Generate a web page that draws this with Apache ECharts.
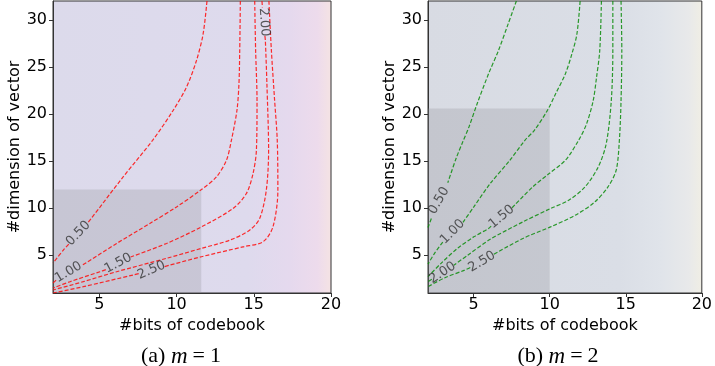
<!DOCTYPE html>
<html>
<head>
<meta charset="utf-8">
<script src="https://cdn.jsdelivr.net/npm/echarts@6/dist/echarts.min.js"></script>
<style>
  html, body { margin: 0; padding: 0; background: #fff; }
  #main { width: 715px; height: 366px; }
</style>
</head>
<body>
<div id="main"></div>
<script>
// axis ticks
var xTicks = [5, 10, 15, 20];
var yTicks = [5, 10, 15, 20, 25, 30];
var levels = ['0.50', '1.00', '1.50', '2.00', '2.50'];

// m = 1 contours, each split in two where the label sits
var m1_050 = [
  [[11.97, 32], [11.72, 28.51], [11.29, 25.68], [10.64, 22.85], [9.78, 20.39], [8.45, 17.21], [6.54, 13.32], [4.39, 8.73], [4.26, 8.47]],
  [[3.02, 6.19], [2.67, 5.55], [2, 4.18]]
];
var m1_100 = [
  [[14.13, 32], [14.09, 26.74], [14.04, 23.21], [13.91, 20.39], [13.55, 17.21], [13.23, 15.09], [12.58, 13.32], [11.61, 11.98], [10.0, 10.14], [8.27, 8.38], [6.12, 6.26], [3.85, 3.9]],
  [[2.2, 2.35], [2, 2.06]]
];
var m1_150 = [
  [[15.06, 32], [15.12, 26.74], [15.21, 21.44], [15.17, 16.15], [14.95, 13.68], [14.52, 11.56], [13.65, 9.97], [11.61, 8.02], [9.35, 6.26], [7.02, 4.82]],
  [[5.42, 3.48], [5.04, 3.26], [3.1, 2.2], [2, 1.53]]
];
var m1_200 = [
  [[15.53, 32], [15.56, 31.3]],
  [[15.72, 28.3], [15.75, 27.8], [15.85, 23.21], [15.96, 16.15], [15.81, 11.91], [15.38, 8.91], [14.73, 7.67], [13.44, 6.61], [11.61, 5.74], [9.35, 4.68], [6.12, 3.26], [3.96, 2.2], [2, 1.32]]
];
var m1_250 = [
  [[15.98, 32], [16.14, 26.74], [16.35, 21.44], [16.52, 17.21], [16.56, 11.91], [16.24, 8.02], [15.59, 6.43], [14.3, 5.9], [11.61, 4.85], [9.21, 3.8]],
  [[7.55, 3.05], [7.19, 2.91], [3.96, 1.67], [2, 1.0]]
];
var m1LabelPos = [[3.64, 7.32], [3.0, 3.2], [6.22, 4.15], [15.67, 29.76], [8.38, 3.42]];
var m1LabelRot = [46, 31, 28, -86, 23];
var m1Box = [11.6, 12];

// m = 2 contours
var m2_050 = [
  [[7.81, 32], [7.27, 29.57], [6.63, 26.74], [5.98, 24.27], [5.23, 21.09], [4.69, 18.62], [4.3, 17.1], [3.85, 15.3], [3.3, 12.7]],
  [[2.22, 8.9], [2, 7.96]]
];
var m2_100 = [
  [[12.0, 32], [11.79, 28.51], [11.46, 26.39], [11.03, 24.27], [10.39, 22.15], [9.85, 20.39], [8.99, 18.27], [8.37, 17.21], [7.38, 15.09], [6.09, 12.62], [5.01, 10.14], [4.3, 8.5]],
  [[2.97, 6.4], [2.43, 5.21], [2, 4.07]]
];
var m2_150 = [
  [[13.4, 32], [13.29, 26.74], [13.08, 23.91], [12.86, 21.44], [12.43, 18.98], [11.9, 17.21], [11.03, 15.09], [9.96, 13.68], [8.88, 12.26], [7.53, 10.05]],
  [[6.15, 8.1], [5.98, 7.85], [5.01, 6.96], [3.94, 5.74], [2.86, 4.15], [2, 2.73]]
];
var m2_200 = [
  [[14.15, 32], [14.15, 26.74], [14.05, 21.44], [13.72, 16.89], [13.19, 14.38], [12.32, 12.26], [11.25, 10.85], [10.06, 9.97], [8.24, 8.55], [6.09, 6.7], [4.6, 5.0], [3.7, 3.95]],
  [[2.25, 2.45], [2, 2.2]]
];
var m2_250 = [
  [[14.69, 32], [14.74, 26.74], [14.69, 21.44], [14.58, 17.21], [14.37, 14.03], [13.83, 12.26], [12.97, 10.67], [11.68, 9.26], [10.06, 8.02], [8.24, 6.79], [6.32, 5.1]],
  [[4.78, 3.7], [4.37, 3.4], [3.08, 2.6], [2, 1.67]]
];
var m2LabelPos = [[2.72, 10.8], [3.61, 7.49], [6.84, 9.08], [2.95, 3.15], [5.55, 4.32]];
var m2LabelRot = [60, 45, 40, 33, 31];
var m2Box = [10, 20.6];

var chart = echarts.init(document.getElementById('main'));
var font = 'DejaVu Sans';

function grad(stops) {
  return { type: 'linear', x: 0, y: 0, x2: 1, y2: 0, colorStops: stops };
}

function makeAxes(i) {
  var x = {
    type: 'value', gridIndex: i, min: 2, max: 20,
    name: '#bits of codebook', nameLocation: 'middle', nameGap: 19,
    nameTextStyle: { fontFamily: font, fontSize: 16, color: '#000' },
    axisLine: { show: true, lineStyle: { color: '#333' } },
    axisTick: { show: true, customValues: xTicks, length: 4, lineStyle: { color: '#333' } },
    axisLabel: { customValues: xTicks, fontFamily: font, fontSize: 16, color: '#000', margin: 4 },
    splitLine: { show: false }
  };
  var y = {
    type: 'value', gridIndex: i, min: 1, max: 32,
    name: '#dimension of vector', nameLocation: 'middle', nameGap: 29,
    nameTextStyle: { fontFamily: font, fontSize: 16, color: '#000' },
    axisLine: { show: true, lineStyle: { color: '#333' } },
    axisTick: { show: true, customValues: yTicks, length: 4, lineStyle: { color: '#333' } },
    axisLabel: { customValues: yTicks, fontFamily: font, fontSize: 16, color: '#000', margin: 6 },
    splitLine: { show: false }
  };
  return [x, y];
}

var ax0 = makeAxes(0), ax1 = makeAxes(1);
var series = [];

function addPanel(i, contours, labelPos, labelRot, box, color) {
  // shaded region
  series.push({
    type: 'line', xAxisIndex: i, yAxisIndex: i, data: [], z: 1, silent: true,
    markArea: {
      silent: true,
      data: [
        [{ xAxis: 2, yAxis: 1, itemStyle: { opacity: 1, color: 'rgba(145,145,150,0.27)' } }, { xAxis: box[0], yAxis: box[1] }]
      ]
    }
  });
  contours.forEach(function (c) {
    c.forEach(function (seg) {
      series.push({
        type: 'line', xAxisIndex: i, yAxisIndex: i, data: seg, z: 3,
        symbol: 'none', smooth: 0.3, silent: true,
        lineStyle: { color: color, width: 1.2, type: [4, 2] }
      });
    });
  });
  series.push({
    type: 'scatter', xAxisIndex: i, yAxisIndex: i, symbolSize: 0, z: 4, silent: true,
    data: labelPos.map(function (p, k) {
      return {
        value: [p[0], p[1]], name: levels[k],
        label: { rotate: labelRot[k] }
      };
    }),
    label: {
      show: true, position: 'inside', formatter: '{b}',
      fontFamily: font, fontSize: 13, color: '#333'
    }
  });
}

addPanel(0, [m1_050, m1_100, m1_150, m1_200, m1_250], m1LabelPos, m1LabelRot, m1Box, 'rgba(255,10,10,0.85)');
addPanel(1, [m2_050, m2_100, m2_150, m2_200, m2_250], m2LabelPos, m2LabelRot, m2Box, 'rgba(10,140,10,0.85)');

var capStyle = {
  fontFamily: 'Liberation Serif', fontSize: 22, fontWeight: 'normal', color: '#000',
  rich: {
    i: { fontFamily: 'Liberation Serif', fontStyle: 'italic', fontSize: 23, color: '#000' },
    e: { fontFamily: 'Liberation Serif', fontSize: 22, color: '#000', padding: [0, 5] }
  }
};

chart.setOption({
  animation: false,
  title: [
    { text: '(a) {i|m}{e|=}1', left: 176, top: 340, textAlign: 'center', textStyle: capStyle },
    { text: '(b) {i|m}{e|=}2', left: 553, top: 340, textAlign: 'center', textStyle: capStyle }
  ],
  grid: [
    { left: 53, top: 1, width: 278, height: 292, show: true, borderColor: '#333', borderWidth: 1,
      backgroundColor: grad([{ offset: 0, color: '#dcdaeb' }, { offset: 0.7, color: '#dedaed' }, { offset: 0.85, color: '#e5d9ee' }, { offset: 0.95, color: '#eddbec' }, { offset: 1, color: '#f5e3e3' }]) },
    { left: 428, top: 1, width: 279, height: 292, show: true, borderColor: '#333', borderWidth: 1,
      backgroundColor: grad([{ offset: 0, color: '#d8dbe3' }, { offset: 0.7, color: '#dadee6' }, { offset: 0.85, color: '#e0e4ea' }, { offset: 0.95, color: '#e8e9ea' }, { offset: 1, color: '#f0eee4' }]) }
  ],
  xAxis: [ax0[0], ax1[0]],
  yAxis: [ax0[1], ax1[1]],
  series: series
});
</script>
</body>
</html>
